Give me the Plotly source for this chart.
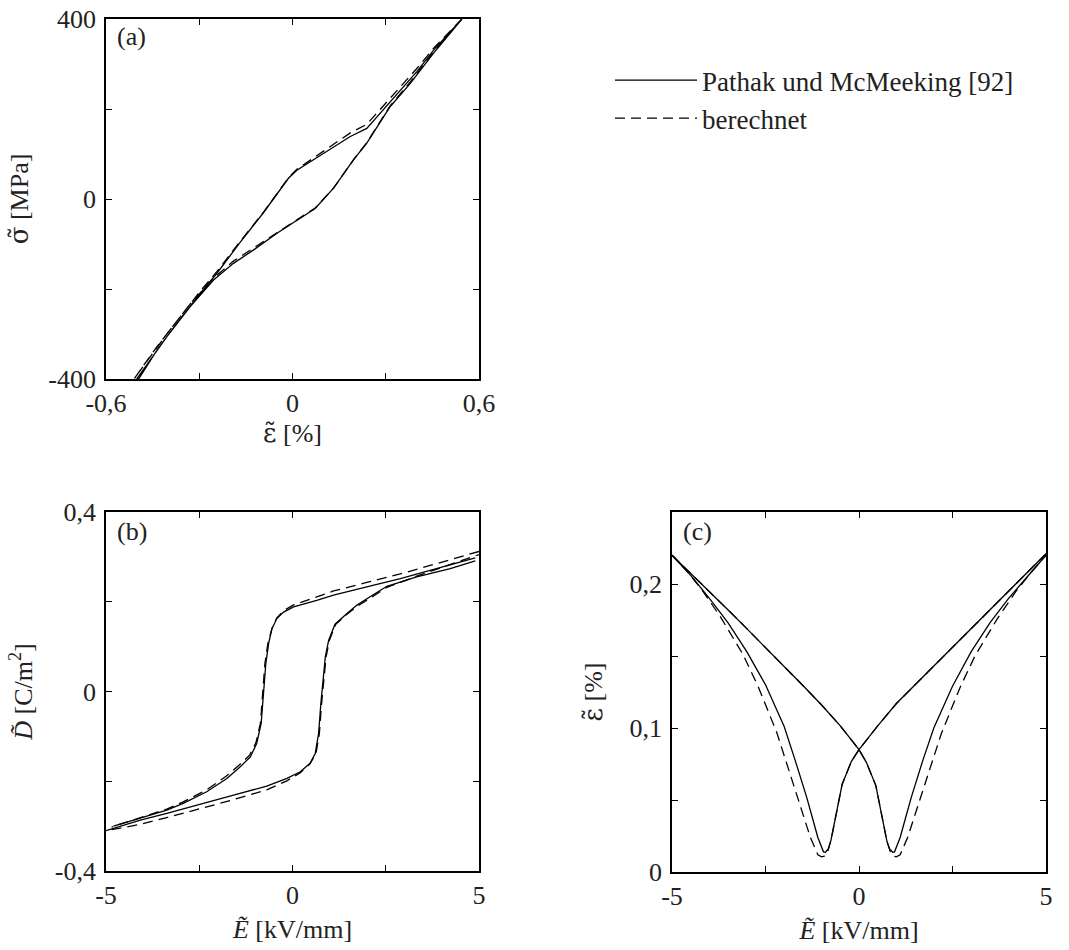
import plotly.graph_objects as go

# ---------------- data ----------------
# (a) stress-strain loop: strain [%], stress [MPa]
A_UP_X = [0.545, 0.454, 0.400, 0.325, 0.239, 0.186, 0.132, 0.057, 0.014, -0.013, -0.050, -0.093, -0.168, -0.243, -0.297, -0.372, -0.436, -0.495]
A_UP_Y = [400, 331, 283, 224, 157, 139, 116, 83, 64, 46, 12, -30, -96, -165, -210, -276, -336, -400]
A_LO_X = [-0.501, -0.404, -0.329, -0.254, -0.190, -0.125, -0.050, 0.025, 0.073, 0.132, 0.196, 0.239, 0.314, 0.379, 0.454, 0.545]
A_LO_Y = [-400, -306, -239, -180, -143, -113, -76, -43, -21, 24, 87, 124, 205, 257, 324, 400]
A_DUP_X = [0.545, 0.454, 0.400, 0.325, 0.239, 0.186, 0.132, 0.057, 0.014, -0.013, -0.050, -0.093, -0.168, -0.243, -0.297, -0.372, -0.436, -0.510]
A_DUP_Y = [400, 335, 290, 232, 166, 147, 122, 87, 66, 47, 13, -29, -94, -161, -205, -270, -328, -400]
A_DLO_X = [-0.510, -0.404, -0.329, -0.254, -0.190, -0.125, -0.050, 0.025, 0.073, 0.132, 0.196, 0.239, 0.314, 0.379, 0.454, 0.545]
A_DLO_Y = [-400, -300, -233, -176, -138, -109, -74, -42, -20, 24, 87, 125, 207, 260, 327, 400]

# (b) dielectric displacement loop: E [kV/mm], D [C/m^2]
B_UP_X = [4.90, 2.89, 1.99, 1.10, 0.65, 0.03, -0.24, -0.42, -0.55, -0.64, -0.715, -0.78, -0.84, -0.96, -1.13, -1.40, -1.76, -2.30, -2.93, -3.37, -4.08, -4.80]
B_UP_Y = [0.298, 0.2516, 0.233, 0.2145, 0.2033, 0.1885, 0.177, 0.1625, 0.140, 0.107, 0.0623, -0.0119, -0.0712, -0.1158, -0.1455, -0.1677, -0.194, -0.2234, -0.2494, -0.2642, -0.2827, -0.300]
B_LO_X = [-5.0, -4.08, -3.37, -2.48, -1.58, -0.69, -0.15, 0.21, 0.47, 0.61, 0.70, 0.76, 0.81, 0.88, 0.97, 1.14, 1.46, 1.72, 2.08, 2.53, 3.33, 4.23, 4.90]
B_LO_Y = [-0.310, -0.2865, -0.2716, -0.2508, -0.2308, -0.2108, -0.1937, -0.1788, -0.160, -0.138, -0.0935, -0.0267, 0.0178, 0.0772, 0.1143, 0.150, 0.1737, 0.192, 0.211, 0.2345, 0.2553, 0.274, 0.291]
B_DUP_X = [5.0, 2.89, 1.99, 1.10, 0.65, 0.03, -0.24, -0.42, -0.55, -0.66, -0.74, -0.80, -0.86, -0.98, -1.15, -1.42, -1.78, -2.30, -2.93, -3.37, -4.08, -4.85]
B_DUP_Y = [0.312, 0.262, 0.243, 0.224, 0.211, 0.193, 0.180, 0.164, 0.141, 0.107, 0.062, -0.012, -0.071, -0.114, -0.142, -0.163, -0.189, -0.219, -0.246, -0.262, -0.282, -0.302]
B_DLO_X = [-4.85, -4.08, -3.37, -2.48, -1.58, -0.69, -0.15, 0.21, 0.47, 0.63, 0.72, 0.78, 0.83, 0.90, 0.99, 1.16, 1.46, 1.72, 2.08, 2.53, 3.33, 4.23, 5.0]
B_DLO_Y = [-0.308, -0.296, -0.281, -0.261, -0.241, -0.219, -0.199, -0.181, -0.161, -0.138, -0.094, -0.027, 0.018, 0.077, 0.114, 0.150, 0.172, 0.189, 0.208, 0.232, 0.257, 0.282, 0.305]

# (c) butterfly strain curves: E [kV/mm], strain [%]
C1_X = [-5.0, -4.5, -4.0, -3.5, -3.0, -2.5, -2.0, -1.5, -1.0, -0.5, 0.0, 0.2, 0.45, 0.55, 0.65, 0.75, 0.82, 0.9, 0.95, 1.0, 1.1, 1.25, 1.4, 1.7, 2.0, 2.5, 3.0, 3.5, 4.0, 4.5, 5.0]
C1_Y = [0.220, 0.2075, 0.195, 0.182, 0.169, 0.156, 0.1425, 0.1295, 0.116, 0.1015, 0.085, 0.076, 0.060, 0.047, 0.033, 0.021, 0.016, 0.0137, 0.014, 0.017, 0.024, 0.038, 0.052, 0.077, 0.100, 0.129, 0.153, 0.173, 0.190, 0.205, 0.220]
C2_X = [5.0, 4.5, 4.0, 3.5, 3.0, 2.5, 2.0, 1.5, 1.0, 0.5, 0.0, -0.2, -0.45, -0.55, -0.65, -0.75, -0.82, -0.9, -0.95, -1.0, -1.1, -1.25, -1.4, -1.7, -2.0, -2.5, -3.0, -3.5, -4.0, -4.5, -5.0]
C2_Y = [0.221, 0.208, 0.195, 0.182, 0.169, 0.156, 0.143, 0.130, 0.117, 0.1015, 0.085, 0.077, 0.061, 0.048, 0.034, 0.022, 0.016, 0.0137, 0.014, 0.017, 0.024, 0.038, 0.052, 0.077, 0.101, 0.130, 0.153, 0.173, 0.190, 0.206, 0.220]
D1_X = [-5.0, -4.5, -4.0, -3.5, -3.0, -2.5, -2.0, -1.5, -1.0, -0.5, 0.0, 0.2, 0.45, 0.55, 0.65, 0.75, 0.85, 0.93, 1.0, 1.1, 1.3, 1.6, 1.9, 2.2, 2.7, 3.1, 3.7, 4.2, 4.6, 5.0]
D1_Y = [0.220, 0.2075, 0.195, 0.182, 0.169, 0.156, 0.1425, 0.1295, 0.116, 0.1015, 0.085, 0.076, 0.060, 0.047, 0.033, 0.021, 0.013, 0.011, 0.0105, 0.012, 0.024, 0.048, 0.073, 0.096, 0.128, 0.150, 0.176, 0.195, 0.208, 0.220]
D2_X = [5.0, 4.5, 4.0, 3.5, 3.0, 2.5, 2.0, 1.5, 1.0, 0.5, 0.0, -0.2, -0.45, -0.55, -0.65, -0.75, -0.85, -0.93, -1.0, -1.1, -1.3, -1.6, -1.9, -2.2, -2.7, -3.1, -3.7, -4.2, -4.6, -5.0]
D2_Y = [0.221, 0.208, 0.195, 0.182, 0.169, 0.156, 0.143, 0.130, 0.117, 0.1015, 0.085, 0.077, 0.061, 0.048, 0.034, 0.022, 0.013, 0.011, 0.0105, 0.012, 0.024, 0.048, 0.073, 0.097, 0.129, 0.151, 0.177, 0.196, 0.209, 0.220]

SERIES = ["Pathak und McMeeking [92]", "berechnet"]

# ---------------- figure ----------------
FONT = "Liberation Serif, DejaVu Serif, serif"
GREEK = "DejaVu Serif"
FS = 26
TXT = "#222"
W, H = 1069, 950
solid = dict(color="black", width=1.3)
dashed = dict(color="black", width=1.3, dash="10px,6px")

fig = go.Figure()

def add(x, y, line, name, xa, ya, show):
    fig.add_trace(go.Scatter(x=x, y=y, mode="lines", line=line, name=name,
                             legendgroup=name, showlegend=show,
                             xaxis=xa, yaxis=ya, hoverinfo="skip"))

# panel (a)
add(A_UP_X + A_LO_X, A_UP_Y + A_LO_Y, solid, SERIES[0], "x", "y", True)
add(A_DUP_X + A_DLO_X, A_DUP_Y + A_DLO_Y, dashed, SERIES[1], "x", "y", True)
# panel (b)
add(B_UP_X, B_UP_Y, solid, SERIES[0], "x2", "y2", False)
add(B_LO_X, B_LO_Y, solid, SERIES[0], "x2", "y2", False)
add(B_DUP_X, B_DUP_Y, dashed, SERIES[1], "x2", "y2", False)
add(B_DLO_X, B_DLO_Y, dashed, SERIES[1], "x2", "y2", False)
# panel (c)
add(C1_X, C1_Y, solid, SERIES[0], "x3", "y3", False)
add(C2_X, C2_Y, solid, SERIES[0], "x3", "y3", False)
add(D1_X, D1_Y, dashed, SERIES[1], "x3", "y3", False)
add(D2_X, D2_Y, dashed, SERIES[1], "x3", "y3", False)

def px_x(p):
    return p / W

def px_y(p):
    return 1 - p / H

def axis(dom, rng, major, text, minor, anchor, title, standoff, lstand):
    return dict(
        domain=dom, range=rng, anchor=anchor, automargin=False,
        showgrid=False, zeroline=False, showline=True, linecolor="black",
        linewidth=1.6, mirror="ticks", ticks="inside", ticklen=6,
        tickwidth=1, tickcolor="black",
        tickmode="array", tickvals=major, ticktext=text,
        minor=dict(tickmode="array", tickvals=minor, ticks="inside", ticklen=6,
                   tickwidth=1, tickcolor="black", showgrid=False),
        ticklabelstandoff=lstand,
        tickfont=dict(family=FONT, size=FS, color=TXT),
        title=dict(text=title, font=dict(family=FONT, size=FS, color=TXT),
                   standoff=standoff),
    )

E_MAJOR = [-5, 0, 5]
E_TEXT = ["-5", "0", "5"]
E_MINOR = [-2.5, 2.5]
E_TITLE = "<i>Ẽ</i> [kV/mm]"
EPS_TITLE = '<span style="font-family:%s">ε̃</span> [%%]' % GREEK
SIG_TITLE = '<span style="font-family:%s">σ̃</span> [MPa]' % GREEK

fig.update_layout(
    template="none",
    width=W, height=H,
    margin=dict(l=0, r=0, t=0, b=0, pad=0),
    paper_bgcolor="white", plot_bgcolor="white",
    font=dict(family=FONT, size=FS, color=TXT),
    xaxis=axis([px_x(106), px_x(479)], [-0.6, 0.6], [-0.6, 0, 0.6],
               ["-0,6", "0", "0,6"], [-0.3, 0.3], "y", EPS_TITLE, 3, 0),
    yaxis=axis([px_y(379), px_y(19)], [-400, 400], [-400, 0, 400],
               ["-400", "0", "400"], [-200, 200], "x", SIG_TITLE, 12, 3),
    xaxis2=axis([px_x(106), px_x(479)], [-5, 5], E_MAJOR, E_TEXT, E_MINOR,
                "y2", E_TITLE, 11, 0),
    yaxis2=axis([px_y(871), px_y(512)], [-0.4, 0.4], [-0.4, 0, 0.4],
                ["-0,4", "0", "0,4"], [-0.2, 0.2], "x2",
                "<i>D̃</i> [C/m<sup>2</sup>]", 15, 3),
    xaxis3=axis([px_x(672), px_x(1046)], [-5, 5], E_MAJOR, E_TEXT, E_MINOR,
                "y3", E_TITLE, 11, 0),
    yaxis3=axis([px_y(872), px_y(512)], [0, 0.25], [0, 0.1, 0.2],
                ["0", "0,1", "0,2"], [0.05, 0.15], "x3", EPS_TITLE, 19, 3),
    legend=dict(x=px_x(610), y=px_y(56), xanchor="left", yanchor="top",
                bgcolor="rgba(0,0,0,0)", borderwidth=0,
                font=dict(family=FONT, size=27, color=TXT),
                itemwidth=82, tracegroupgap=0, traceorder="normal"),
    showlegend=True,
    hovermode=False,
)

for lab, x, y in [("(a)", 115, 36), ("(b)", 115, 531), ("(c)", 681, 531)]:
    fig.add_annotation(text=lab, x=px_x(x), y=px_y(y), xref="paper", yref="paper",
                       xanchor="left", yanchor="middle", showarrow=False,
                       font=dict(family=FONT, size=FS, color=TXT))

fig.write_html("out.html")
